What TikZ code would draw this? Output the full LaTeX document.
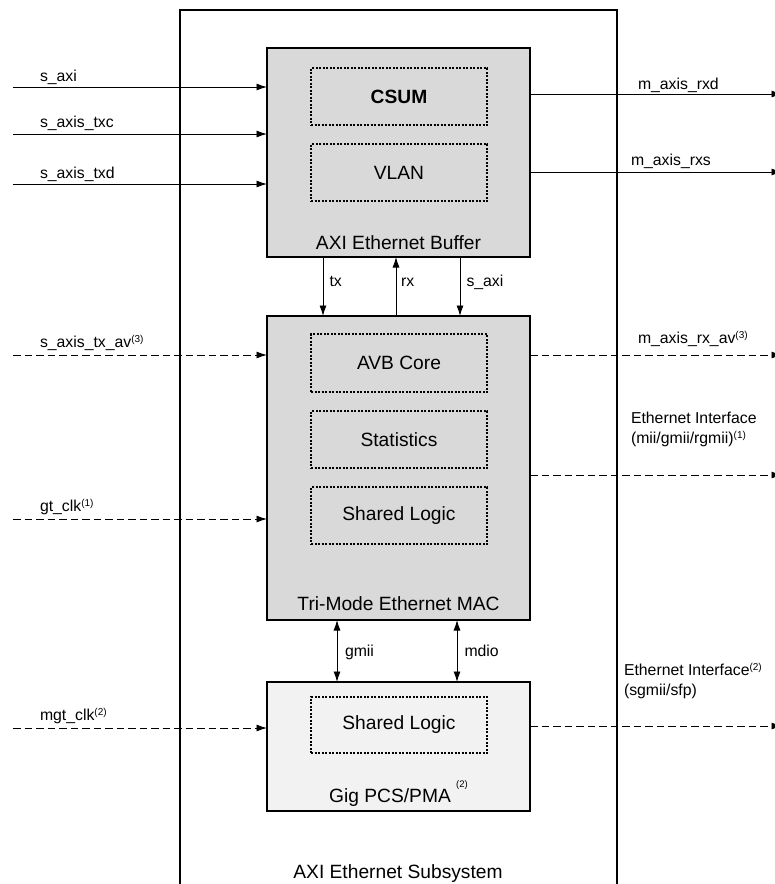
\documentclass[tikz,border=0pt]{standalone}
\usepackage{fontspec}
\setmainfont{Liberation Sans}
\usetikzlibrary{arrows.meta}
\definecolor{boxgray}{HTML}{D9D9D9}
\definecolor{lightgray2}{HTML}{F2F2F2}
\newcommand\supn[1]{\raisebox{5pt}{\fontsize{10}{10}\selectfont(#1)}}
\begin{document}
\begin{tikzpicture}[x=1pt,y=-1pt,
  every node/.style={inner sep=0pt,outer sep=0pt},
  bigfont/.style={font=\fontsize{19.2}{22}\selectfont},
  smallfont/.style={font=\fontsize{15.8}{20}\selectfont},
  blockbox/.style={draw=black,fill=boxgray,minimum width=263pt,line width=1.3pt},
  innerbox/.style={draw=black,line width=1.1pt,dash pattern=on 2pt off 1.5pt,minimum width=176pt,bigfont},
  sig/.style={draw=black,line width=0.9pt,-{Latex[length=10.5pt,width=7pt]}},
  dsig/.style={sig,dash pattern=on 7.5pt off 4pt},
  bisig/.style={draw=black,line width=0.9pt,{Latex[length=10.5pt,width=7pt]}-{Latex[length=10.5pt,width=7pt]}},
  lbl/.style={anchor=base west,smallfont},
  title/.style={anchor=base,bigfont},
]
\useasboundingbox (0,0) rectangle (775,884);

% outer subsystem frame (open at bottom)
\draw[line width=1.3pt] (180,900) -- (180,10) -- (617,10) -- (617,900);
\node[title] (subsys) at (398,878.3) {AXI Ethernet Subsystem};

% AXI Ethernet Buffer
\node[blockbox,line width=2pt,minimum height=209pt] (buf) at (398.5,152.5) {};
\node[innerbox,minimum height=57pt,font=\fontsize{19.2}{22}\selectfont\bfseries] (csum) at (399,96.5) {CSUM};
\node[innerbox,minimum height=57pt] (vlan) at (399,172.5) {VLAN};
\node[title] (buft) at (398.5,249) {AXI Ethernet Buffer};

% Tri-Mode Ethernet MAC
\node[blockbox,minimum height=304pt] (mac) at (398.5,468) {};
\node[innerbox,minimum height=58pt] (avb) at (399,363) {AVB Core};
\node[innerbox,minimum height=57pt] (stats) at (399,439.5) {Statistics};
\node[innerbox,minimum height=57pt] (shl1) at (399,515.5) {Shared Logic};
\node[title] (mact) at (398.5,610.7) {Tri-Mode Ethernet MAC};

% Gig PCS/PMA
\node[blockbox,fill=lightgray2,minimum height=129pt] (gig) at (398.5,746.5) {};
\node[innerbox,minimum height=56pt] (shl2) at (399,725) {Shared Logic};
\node[title] (gigt) at (398.5,802.3) {Gig PCS/PMA \raisebox{15pt}{\fontsize{9.5}{10}\selectfont(2)}};

% left inputs
\coordinate (i1) at (13,87);
\coordinate (i2) at (13,134);
\coordinate (i3) at (13,184);
\coordinate (i4) at (13,355);
\coordinate (i5) at (13,519);
\coordinate (i6) at (13,728);
\draw[sig] (i1) -- (buf.west |- i1);
\draw[sig] (i2) -- (buf.west |- i2);
\draw[sig] (i3) -- (buf.west |- i3);
\draw[dsig] (i4) -- (mac.west |- i4);
\draw[dsig] (i5) -- (mac.west |- i5);
\draw[dsig] (i6) -- (gig.west |- i6);
\node[lbl] (l1) at (40,81.5) {s\_axi};
\node[lbl] (l2) at (40,127) {s\_axis\_txc};
\node[lbl] (l3) at (40,178) {s\_axis\_txd};
\node[lbl] (l4) at (40,347) {s\_axis\_tx\_av\supn{3}};
\node[lbl] (l5) at (40,511) {gt\_clk\supn{1}};
\node[lbl] (l6) at (40,720) {mgt\_clk\supn{2}};

% right outputs
\coordinate (o1) at (782,94);
\coordinate (o2) at (782,172);
\coordinate (o3) at (782,355);
\coordinate (o4) at (782,475);
\coordinate (o5) at (782,726);
\draw[sig] (buf.east |- o1) -- (o1);
\draw[sig] (buf.east |- o2) -- (o2);
\draw[dsig] (mac.east |- o3) -- (o3);
\draw[dsig] (mac.east |- o4) -- (o4);
\draw[dsig] (gig.east |- o5) -- (o5);
\node[lbl] (r1) at (638,89.5) {m\_axis\_rxd};
\node[lbl] (r2) at (631,165) {m\_axis\_rxs};
\node[lbl] (r3) at (638,343) {m\_axis\_rx\_av\supn{3}};
\node[lbl,align=left] (r4) at (631,443) {Ethernet Interface\\(mii/gmii/rgmii)\supn{1}};
\node[lbl,align=left] (r5) at (624,695) {Ethernet Interface\supn{2}\\(sgmii/sfp)};

% buffer <-> MAC
\coordinate (ctx) at (323,287);
\coordinate (crx) at (396,287);
\coordinate (csa) at (460,287);
\draw[sig] (ctx |- buf.south) -- (ctx |- mac.north);
\draw[sig] (crx |- mac.north) -- (crx |- buf.south);
\draw[sig] (csa |- buf.south) -- (csa |- mac.north);
\node[lbl] (ltx) at (329.5,286.7) {tx};
\node[lbl] (lrx) at (401,286.7) {rx};
\node[lbl] (lsa) at (466.5,286.7) {s\_axi};

% MAC <-> Gig PCS/PMA
\coordinate (cgm) at (337,656);
\coordinate (cmd) at (457,656);
\draw[bisig] (cgm |- mac.south) -- (cgm |- gig.north);
\draw[bisig] (cmd |- mac.south) -- (cmd |- gig.north);
\node[lbl] (lgm) at (345,656.5) {gmii};
\node[lbl] (lmd) at (464.5,656.5) {mdio};
\end{tikzpicture}
\end{document}
